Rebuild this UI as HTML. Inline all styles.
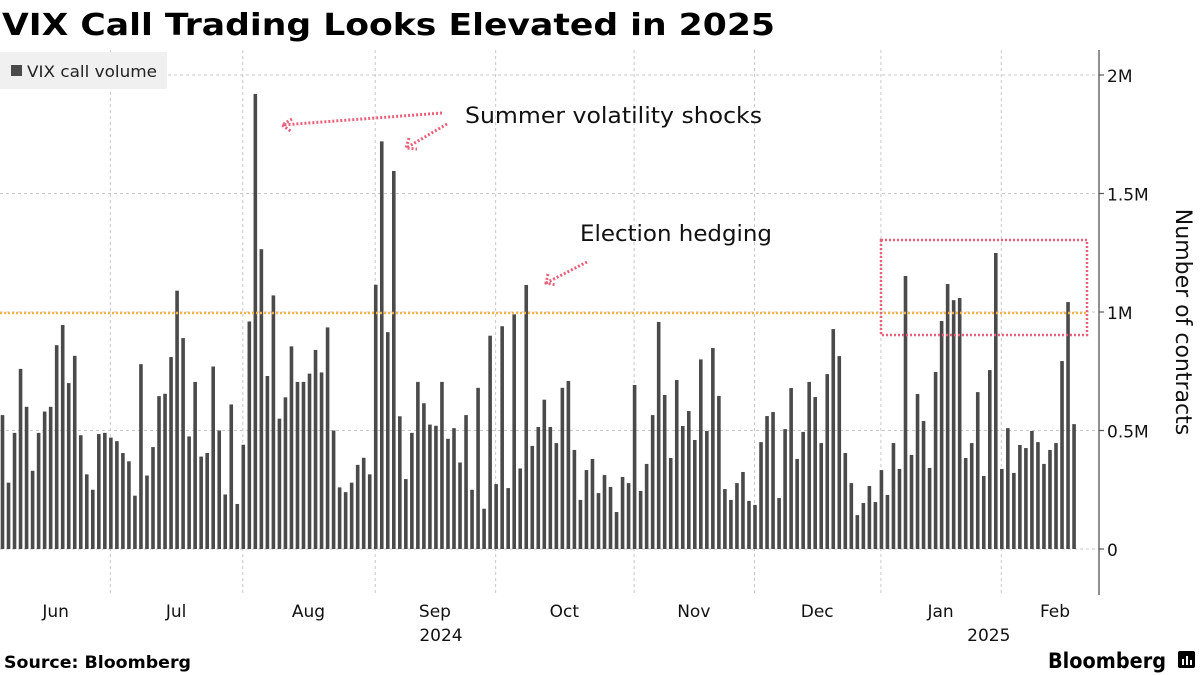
<!DOCTYPE html>
<html><head><meta charset="utf-8">
<style>
html,body{margin:0;padding:0;background:#fff;}
body{width:1200px;height:675px;overflow:hidden;position:relative;font-family:"DejaVu Sans","Liberation Sans",sans-serif;}
svg{position:absolute;left:0;top:0;}
</style></head>
<body>
<svg id="c" width="1200" height="675" viewBox="0 0 1200 675">
  <text x="2" y="35" font-size="30" font-weight="bold" fill="#000" font-family="DejaVu Sans, sans-serif" textLength="773" lengthAdjust="spacingAndGlyphs">VIX Call Trading Looks Elevated in 2025</text>
  <g id="grid"></g>
  <g id="bars"></g>
  <g id="axis"></g>
  <g id="xaxis"></g>
  <line x1="0" x2="1088" y1="313" y2="313" stroke="#f5b24a" stroke-width="2.5" stroke-dasharray="2,2"/>
  <rect x="881" y="240" width="206" height="95" fill="none" stroke="#e8607a" stroke-width="2.5" stroke-dasharray="2,2"/>
  <g>
    <rect x="0" y="52" width="167" height="37" fill="#f0f0f0"/>
    <rect x="11" y="65" width="11" height="11" fill="#4a4a4a"/>
    <text x="27" y="77" font-size="16" fill="#222" textLength="130" lengthAdjust="spacingAndGlyphs">VIX call volume</text>
  </g>
  <g fill="none" stroke="#e8607a" stroke-width="3" stroke-dasharray="2,2">
    <path d="M442,113 L282,125 M292,119 L282,125 L292,132"/>
    <path d="M447,124 L406,148 M409,138 L406,148 L417,149"/>
    <path d="M587,262 L546,283 M548,274 L546,283 L556,285"/>
  </g>
  <text x="465" y="123" font-size="22" fill="#111" textLength="297" lengthAdjust="spacingAndGlyphs">Summer volatility shocks</text>
  <text x="580" y="241" font-size="22" fill="#111" textLength="192" lengthAdjust="spacingAndGlyphs">Election hedging</text>
  <text transform="translate(1176,322) rotate(90)" font-size="22" fill="#111" text-anchor="middle">Number of contracts</text>
  <text x="4" y="668" font-size="17" font-weight="bold" fill="#000" textLength="187" lengthAdjust="spacingAndGlyphs">Source: Bloomberg</text>
  <text x="1048" y="668" font-size="21" font-weight="bold" fill="#000" textLength="118" lengthAdjust="spacingAndGlyphs">Bloomberg</text>
  <g>
    <rect x="1178" y="651" width="17" height="17" rx="2" fill="#000"/>
    <rect x="1182" y="659" width="2" height="6" fill="#fff"/>
    <rect x="1186" y="656" width="2" height="9" fill="#fff"/>
    <rect x="1190" y="660" width="2" height="5" fill="#fff"/>
  </g>
</svg>
<script>
const values = [
0.565,0.28,0.49,0.76,0.60,0.33,0.49,0.58,0.60,0.86,0.945,0.70,0.815,0.48,0.315,0.25,0.485,0.49,0.47,0.455,0.405,0.37,0.225,0.78,0.31,0.43,0.645,0.655,0.81,1.09,0.89,0.475,0.705,0.39,0.405,0.77,0.50,0.23,0.61,0.19,0.44,0.96,
1.92,1.265,0.73,1.07,0.55,0.64,0.855,0.705,0.705,0.74,0.84,0.745,0.935,0.50,0.26,0.24,0.28,0.355,0.385,0.315,1.115,1.72,0.915,1.595,0.56,0.295,0.49,0.705,0.615,0.525,0.52,0.705,0.465,0.51,0.365,0.565,0.25,0.68,0.17,0.90,
0.274,0.94,0.257,0.99,0.34,1.114,0.435,0.515,0.63,0.515,0.447,0.68,0.709,0.418,0.207,0.333,0.38,0.236,0.312,0.262,0.156,0.304,0.278,0.692,0.245,0.359,0.565,0.958,0.65,0.384,0.713,0.519,0.582,0.46,0.80,0.498,0.848,0.646,0.253,0.207,
0.278,0.325,0.203,0.186,0.451,0.561,0.578,0.215,0.506,0.679,0.38,0.494,0.705,0.641,0.447,0.738,0.928,0.814,0.405,0.278,0.143,0.194,0.266,0.198,0.333,0.228,0.447,0.338,1.152,0.397,0.654,0.54,0.342,0.747,0.962,1.118,1.05,1.059,0.384,
0.447,0.662,0.308,0.755,1.249,0.338,0.51,0.321,0.439,0.426,0.498,0.451,0.359,0.418,0.447,0.793,1.042,0.527
];
const yTicks = [0,0.5,1,1.5,2];
const yTickLabels = ["0","0.5M","1M","1.5M","2M"];
const monthLabels = ["Jun","Jul","Aug","Sep","Oct","Nov","Dec","Jan","Feb"];
const monthBoundaryIdx = [18,40,62,82,105,125,146,166];
const monthLabelIdx = [9,29,51,72,93.5,115,135.5,156,175];
const yearLabels = ["2024","2025"];
const yearLabelIdx = [73,164];

const NS="http://www.w3.org/2000/svg";
const x0=1.5, step=6.02, bw=3.6;
const yScale = v => 549 - v*237;
const xScale = i => x0 + i*step;
function mk(tag, attrs, parent){const e=document.createElementNS(NS,tag);for(const k in attrs)e.setAttribute(k,attrs[k]);parent.appendChild(e);return e;}
const grid=document.getElementById('grid'), bars=document.getElementById('bars'), axis=document.getElementById('axis'), xaxis=document.getElementById('xaxis');

yTicks.forEach((t,i)=>{
  const y=yScale(t);
  const g=mk('line',{x1:0,x2:1099,y1:y,y2:y,stroke:'#c8c8c8','stroke-width':1,'stroke-dasharray':'3,3'},grid);
  
  
  const tk=mk('line',{x1:1099,x2:1104,y1:y,y2:y,stroke:'#555','stroke-width':1.2},axis);
  
  
  const lb=mk('text',{x:1107,y:y+7,'font-size':17,fill:'#111'},axis);
  lb.textContent=yTickLabels[i];
  
  
});
const ax=mk('line',{x1:1099,x2:1099,y1:50,y2:595,stroke:'#555','stroke-width':1.3},axis);



monthBoundaryIdx.forEach(i=>{
  const x=xScale(i)+0.5;
  const l=mk('line',{x1:x,x2:x,y1:50,y2:595,stroke:'#c8c8c8','stroke-width':1,'stroke-dasharray':'3,3'},grid);
  
  
});
monthLabels.forEach((m,k)=>{
  const t=mk('text',{x:xScale(monthLabelIdx[k]),y:617,'font-size':17,fill:'#111','text-anchor':'middle'},xaxis);
  t.textContent=m;
  
  
});
yearLabels.forEach((m,k)=>{
  const t=mk('text',{x:xScale(yearLabelIdx[k]),y:641,'font-size':17,fill:'#111','text-anchor':'middle'},xaxis);
  t.textContent=m;
  
  
});

values.forEach((v,i)=>{
  const y=yScale(v);
  const r=mk('rect',{x:xScale(i)-bw/2+1,y:y,width:bw,height:549-y,fill:'#4a4a4a'},bars);
  
  
});
</script>
</body></html>
